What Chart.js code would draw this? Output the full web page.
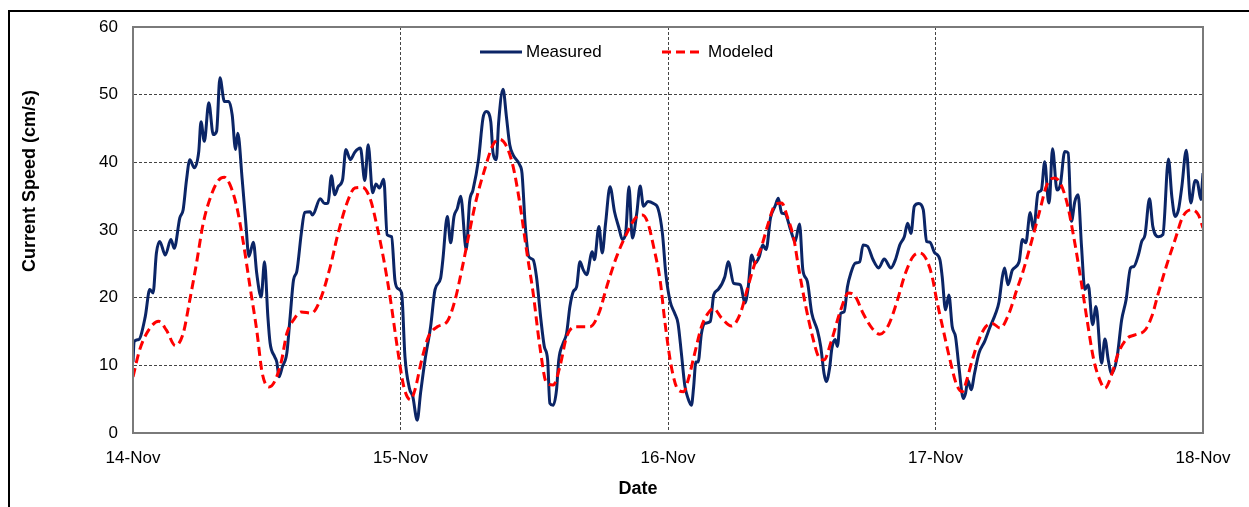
<!DOCTYPE html>
<html lang="en">
<head>
  <meta charset="UTF-8" />
  <title>Current Speed - Measured vs Modeled</title>
  <style>
    html, body { margin: 0; padding: 0; background: #fff; overflow: hidden; }
    .wrap { position: relative; width: 1249px; height: 507px; }
    .frame {
      position: absolute; left: 8px; top: 10px; width: 1300px; height: 600px;
      border-left: 2px solid #000; border-top: 2px solid #000; pointer-events: none;
    }
    canvas { display: block; }
  </style>
</head>
<body>
  <div class="wrap">
    <canvas id="speedChart" width="1249" height="507"></canvas>
    <div class="frame"></div>
  </div>

  <script src="https://cdn.jsdelivr.net/npm/chart.js"></script>
  <script>
    // hours since 14-Nov 00:00, speeds in cm/s
    const dayLabels = ['14-Nov', '15-Nov', '16-Nov', '17-Nov', '18-Nov'];

    const measuredHours = [
      0, 0.1, 0.5, 1.1, 1.5, 1.8, 2.1, 2.4, 2.9, 3.4, 3.7, 4.2, 4.5, 4.8, 5.1, 5.5, 5.9, 6.1, 6.4, 6.8,
      7.2, 7.5, 7.8, 8.2, 8.6, 8.9, 9.2, 9.4, 9.8, 10.1, 10.4, 10.8, 11.1, 11.5, 11.8, 12.1, 12.3, 12.7, 12.9, 13.1,
      13.4, 13.8, 14.1, 14.4, 14.7, 15.1, 15.4, 15.9, 16.1, 16.8, 17.2, 17.5, 17.8, 18.1, 18.4, 18.8, 19.1, 19.5, 19.9, 20.4,
      20.8, 21.1, 21.5, 21.8, 22.1, 22.5, 22.8, 23.2, 23.5, 23.8, 24.1, 24.4, 24.8, 25.1, 25.5, 25.8, 26.2, 26.7, 27.1, 27.6,
      27.8, 28.2, 28.5, 28.8, 29.1, 29.4, 29.9, 30.2, 30.5, 31.0, 31.4, 31.7, 32.1, 32.3, 32.6, 32.8, 33.2, 33.5, 33.8, 34.1,
      34.7, 34.9, 35.2, 35.5, 35.9, 36.2, 36.6, 36.9, 37.2, 37.4, 37.7, 38.0, 38.2, 38.6, 38.9, 39.2, 39.5, 39.8, 40.1, 40.4,
      40.7, 41.2, 41.4, 41.8, 42.1, 42.4, 42.8, 43.2, 43.6, 43.9, 44.2, 44.5, 44.8, 45.2, 45.5, 45.8, 46.2, 46.7, 47.1, 47.5,
      47.8, 48.2, 48.6, 48.9, 49.2, 49.5, 49.8, 50.1, 50.3, 50.5, 50.7, 51.0, 51.3, 51.8, 52.1, 52.5, 53.1, 53.4, 53.9, 54.5,
      54.9, 55.2, 55.5, 55.8, 56.2, 56.5, 56.8, 57.2, 57.6, 57.9, 58.2, 58.5, 59.0, 59.4, 59.8, 60.1, 60.5, 60.9, 61.4, 61.7,
      62.0, 62.2, 62.5, 62.7, 63.0, 63.2, 63.5, 63.8, 64.1, 64.4, 64.8, 65.2, 65.5, 65.9, 66.4, 66.9, 67.4, 68.0, 68.4, 68.8,
      69.2, 69.5, 69.8, 70.1, 70.5, 70.9, 71.2, 71.5, 71.9, 72.4, 72.6, 72.9, 73.2, 73.5, 73.8, 74.1, 74.5, 74.7, 74.9, 75.2,
      75.5, 75.9, 76.4, 76.9, 77.4, 77.7, 78.0, 78.2, 78.5, 78.9, 79.5, 79.8, 80.1, 80.5, 80.8, 81.2, 81.5, 81.8, 82.1, 82.2,
      82.5, 82.9, 83.2, 83.6, 83.9, 84.2, 84.5, 84.8, 85.1, 85.4, 85.7, 86.1, 86.4, 86.9, 87.2, 87.5, 87.8, 88.3, 88.7, 89.1,
      89.5, 89.8, 90.2, 90.5, 90.8, 91.2, 91.5, 92.0, 92.4, 92.9, 93.2, 93.5, 93.8, 94.1, 94.5, 94.9, 95.3, 95.5, 95.8, 96.0
    ];
    const measuredSpeed = [
      10.5, 13.5, 13.8, 17.2, 21.2, 20.7, 26.6, 28.3, 26.3, 28.6, 27.3, 31.8, 33.0, 37.4, 40.4, 39.2, 41.6, 46.0, 43.1, 48.8,
      44.1, 44.6, 52.5, 49.0, 49.0, 47.0, 41.9, 44.3, 37.4, 31.5, 26.1, 28.2, 23.6, 20.1, 25.3, 17.2, 13.3, 11.3, 10.5, 8.3,
      9.8, 11.8, 17.2, 22.6, 23.9, 29.5, 32.6, 32.7, 32.2, 34.6, 33.9, 34.0, 38.0, 35.2, 36.4, 37.4, 41.9, 40.4, 41.5, 42.1,
      37.3, 42.6, 35.5, 36.8, 36.2, 37.5, 29.3, 29.0, 22.6, 21.3, 20.7, 11.3, 6.6, 5.4, 1.9, 5.9, 10.8, 15.7, 21.2, 22.9,
      25.6, 32.0, 28.1, 32.0, 33.2, 35.0, 27.1, 34.2, 35.9, 40.4, 46.5, 47.5, 46.0, 41.4, 40.4, 45.8, 50.8, 46.8, 42.6, 41.1,
      39.6, 38.4, 30.5, 26.1, 25.6, 23.1, 16.7, 12.8, 10.8, 4.4, 4.1, 6.4, 10.8, 13.3, 14.7, 18.7, 20.9, 21.6, 25.3, 24.1,
      23.4, 26.8, 25.6, 30.5, 26.6, 31.0, 36.4, 32.7, 30.3, 28.6, 29.5, 36.4, 28.8, 32.5, 36.5, 33.5, 34.2, 33.9, 33.2, 29.5,
      23.6, 19.4, 17.7, 16.2, 11.8, 7.1, 5.1, 4.1, 6.8, 10.5, 10.5, 14.7, 16.2, 16.5, 20.4, 21.2, 23.1, 25.3, 22.1, 21.9,
      19.2, 21.6, 26.3, 25.1, 26.1, 27.8, 27.1, 31.8, 33.5, 34.7, 32.5, 32.4, 30.0, 28.3, 30.9, 24.1, 22.4, 17.7, 15.2, 12.8,
      8.8, 7.6, 9.6, 12.5, 13.8, 12.8, 17.7, 17.9, 21.6, 23.6, 25.1, 25.3, 27.8, 27.6, 25.6, 24.4, 25.7, 24.4, 25.6, 27.8,
      29.0, 31.0, 29.5, 33.5, 33.9, 33.0, 28.3, 28.2, 26.7, 25.6, 23.1, 18.2, 20.4, 15.7, 14.2, 9.8, 5.1, 5.9, 7.8, 6.4,
      8.8, 11.8, 13.5, 15.7, 17.7, 19.4, 23.1, 24.4, 21.9, 24.1, 25.3, 28.6, 28.1, 32.6, 30.0, 35.5, 35.9, 40.1, 34.5, 34.0,
      42.0, 35.9, 36.7, 41.6, 41.4, 31.3, 34.2, 35.2, 27.6, 21.2, 21.9, 16.0, 18.7, 10.3, 13.9, 10.8, 8.8, 11.3, 16.7, 19.7,
      24.4, 24.6, 26.3, 28.3, 29.3, 34.6, 30.5, 29.0, 29.3, 40.5, 35.0, 32.0, 33.0, 36.4, 41.8, 34.0, 37.3, 37.1, 34.5, 38.4
    ];

    const modeledHours = [
      0, 0.6, 1.4, 2.3, 3.0, 3.8, 4.5, 5.1, 5.7, 6.3, 7.1, 7.7, 8.2, 8.7, 9.3, 9.9, 10.5, 11.1, 11.6, 12.2,
      12.7, 13.3, 13.8, 14.4, 15.1, 16.0, 16.8, 17.7, 18.4, 19.2, 19.9, 20.6, 21.3, 21.9, 22.5, 23.1, 23.7, 24.3, 24.9, 25.3,
      25.9, 26.5, 27.3, 28.2, 28.9, 29.5, 30.1, 30.8, 31.6, 32.3, 32.9, 33.5, 34.1, 34.7, 35.3, 35.9, 36.5, 37.1, 37.7, 38.3,
      38.9, 39.7, 41.0, 41.8, 42.5, 43.4, 44.3, 45.1, 45.7, 46.2, 46.7, 47.3, 47.7, 48.3, 48.9, 49.4, 49.8, 50.4, 51.0, 51.6,
      52.1, 52.8, 53.7, 54.5, 55.1, 55.8, 56.4, 57.0, 57.6, 58.2, 58.7, 59.3, 59.7, 60.3, 60.9, 61.5, 62.0, 62.6, 63.5, 64.2,
      64.8, 65.5, 66.3, 67.0, 67.8, 68.5, 69.3, 70.0, 70.6, 71.2, 71.7, 72.1, 72.7, 73.3, 73.9, 74.4, 74.8, 75.3, 75.9, 76.5,
      77.1, 77.8, 78.6, 79.3, 79.8, 80.5, 81.3, 82.0, 82.7, 83.2, 83.8, 84.4, 85.0, 85.6, 86.2, 86.8, 87.2, 87.8, 88.4, 89.2,
      89.9, 90.8, 91.4, 92.0, 92.7, 93.5, 94.2, 95.0, 95.6, 96.0
    ];
    const modeledSpeed = [
      8.3, 12.3, 15.2, 16.5, 15.2, 12.9, 14.7, 19.7, 25.1, 31.0, 35.5, 37.4, 37.8, 36.7, 33.5, 28.1, 21.6, 15.2, 8.8, 6.8,
      7.6, 10.5, 14.7, 16.7, 17.9, 17.7, 19.7, 24.6, 29.5, 34.0, 36.2, 36.3, 34.5, 30.5, 25.6, 19.7, 12.8, 6.8, 4.9, 6.4,
      10.8, 14.2, 15.7, 16.5, 19.7, 24.1, 29.0, 34.5, 39.2, 42.6, 43.4, 42.4, 39.4, 34.0, 27.1, 20.7, 12.8, 7.4, 7.1, 9.8,
      14.2, 15.7, 15.7, 17.7, 21.6, 26.1, 29.5, 31.8, 32.2, 31.0, 27.6, 22.5, 16.7, 9.8, 6.4, 6.1, 7.8, 11.8, 15.7, 17.7,
      18.4, 17.0, 15.8, 17.7, 21.2, 25.1, 27.6, 31.0, 33.7, 34.0, 32.0, 28.6, 24.6, 19.2, 14.7, 11.3, 10.8, 13.3, 18.2, 20.7,
      20.2, 17.7, 15.5, 14.6, 16.0, 19.2, 23.6, 26.1, 26.6, 25.6, 23.1, 19.7, 15.2, 10.8, 7.1, 6.1, 7.8, 10.8, 13.8, 15.7,
      16.2, 15.5, 17.7, 21.2, 23.6, 27.6, 32.5, 36.7, 37.7, 36.9, 34.0, 29.0, 23.1, 16.7, 10.8, 7.6, 6.6, 8.6, 11.8, 14.0,
      14.5, 15.2, 17.2, 20.7, 24.6, 28.6, 32.0, 33.0, 32.2, 30.3
    ];

    const toPoints = (xs, ys) => xs.map((x, i) => ({ x: x, y: ys[i] }));

    const FONT = '"Liberation Sans", Arial, sans-serif';

    // frame round the plot, legend inside it, axis titles
    const decor = {
      id: 'decor',
      afterDatasetsDraw(chart) {
        const { ctx, chartArea: a } = chart;
        ctx.save();
        ctx.strokeStyle = '#7a7a7a';
        ctx.lineWidth = 2;
        ctx.setLineDash([]);
        ctx.strokeRect(a.left, a.top, a.right - a.left, a.bottom - a.top);
        ctx.restore();
      },
      afterDraw(chart) {
        const { ctx, chartArea: a } = chart;
        ctx.save();

        // legend
        const ly = a.top + 25;
        const items = [
          { ds: chart.data.datasets[0], x: 480 },
          { ds: chart.data.datasets[1], x: 662 }
        ];
        ctx.font = '17px ' + FONT;
        ctx.textBaseline = 'middle';
        ctx.textAlign = 'left';
        items.forEach(it => {
          ctx.strokeStyle = it.ds.borderColor;
          ctx.lineWidth = 3;
          ctx.setLineDash(it.ds.borderDash || []);
          ctx.beginPath();
          ctx.moveTo(it.x, ly);
          ctx.lineTo(it.x + 42, ly);
          ctx.stroke();
          ctx.fillStyle = '#000';
          ctx.fillText(it.ds.label, it.x + 46, ly);
        });
        ctx.setLineDash([]);

        // axis titles
        ctx.font = 'bold 18px ' + FONT;
        ctx.fillStyle = '#000';
        ctx.textAlign = 'center';
        ctx.fillText('Date', 638, 489);
        ctx.translate(30, 181);
        ctx.rotate(-Math.PI / 2);
        ctx.fillText('Current Speed (cm/s)', 0, 0);
        ctx.restore();
      }
    };

    const ctx = document.getElementById('speedChart').getContext('2d');
    const chart = new Chart(ctx, {
      type: 'line',
      data: {
        datasets: [
          {
            label: 'Measured',
            data: toPoints(measuredHours, measuredSpeed),
            borderColor: '#0b2566',
            borderWidth: 3,
            cubicInterpolationMode: 'monotone',
            pointRadius: 0,
            fill: false,
            order: 2
          },
          {
            label: 'Modeled',
            data: toPoints(modeledHours, modeledSpeed),
            borderColor: '#ff0000',
            borderWidth: 3,
            borderDash: [9, 5],
            cubicInterpolationMode: 'monotone',
            pointRadius: 0,
            fill: false,
            order: 1
          }
        ]
      },
      options: {
        responsive: false,
        animation: false,
        devicePixelRatio: 1,
        layout: { padding: { top: 27, right: 46, left: 0, bottom: 0 } },
        plugins: {
          legend: { display: false },
          tooltip: { enabled: false }
        },
        scales: {
          x: {
            type: 'linear',
            min: 0,
            max: 96,
            afterFit: s => { s.height = 74; },
            ticks: {
              stepSize: 24,
              autoSkip: false,
              maxRotation: 0,
              padding: 15,
              color: '#000',
              font: { family: FONT, size: 17 },
              callback: (v) => dayLabels[Math.round(v / 24)]
            },
            grid: { color: '#444', lineWidth: 1, drawTicks: false },
            border: { color: '#7a7a7a', width: 2, dash: [3, 2] }
          },
          y: {
            min: 0,
            max: 60,
            afterFit: s => { s.width = 133; },
            ticks: {
              stepSize: 10,
              padding: 15,
              color: '#000',
              font: { family: FONT, size: 17 }
            },
            grid: { color: '#444', lineWidth: 1, drawTicks: false },
            border: { color: '#7a7a7a', width: 2, dash: [3, 2] }
          }
        }
      },
      plugins: [decor]
    });
  </script>
</body>
</html>
